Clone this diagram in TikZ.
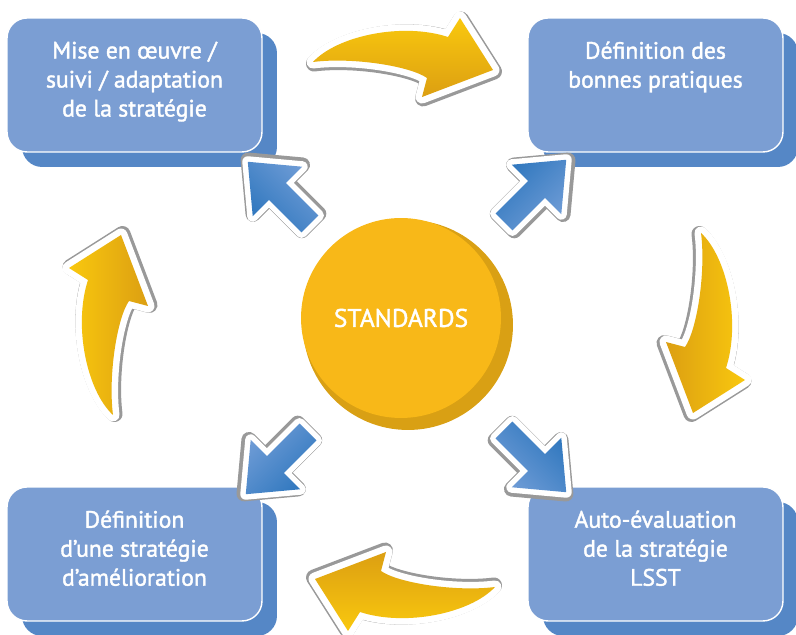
\documentclass[tikz,border=0pt]{standalone}
\usepackage{fontspec}
\setmainfont{PT Sans}
\newfontfamily\stagefont{PT Sans}[FakeBold=1.6]
\usetikzlibrary{positioning,shadows}

\definecolor{boxblue}{HTML}{7B9ED3}
\definecolor{boxshade}{HTML}{5587C6}
\definecolor{stdgold}{HTML}{F8B818}
\definecolor{stdshade}{HTML}{D9A014}
\definecolor{arrowdark}{HTML}{2F77BE}
\definecolor{arrowlight}{HTML}{6F9CD6}
\definecolor{curvelight}{HTML}{F9C80E}
\definecolor{curvedark}{HTML}{DC9F12}

\newcommand\bluearrowpath{(0,-12) -- (46,-12) -- (46,-35) -- (88,0) -- (46,35) -- (46,12) -- (0,12) -- cycle}
\newcommand\curvedarrowpath{(-89,-4) .. controls (-65,22) and (0,36) .. (46,21) -- (58,40) -- (91,-12) -- (20,-39) -- (25,-20) .. controls (8,-8) and (-50,1) .. cycle}

\tikzset{
        stagebox/.style={rectangle, rounded corners=0.4cm, fill=boxblue, draw=white, line width=0.8pt,
                minimum width=5.1cm, minimum height=2.68cm,
                drop shadow={shadow xshift=0.3cm, shadow yshift=-0.3cm, fill=boxshade, opacity=1}},
        stagetext/.style={text=white, align=center, inner sep=0pt, font=\stagefont\fontsize{13.5}{16.5}\selectfont},
        bluearrow/.pic={
                \path[draw=black!40, line width=0.3cm, line join=round, shift={(1,-1.5)}] \bluearrowpath;
                \path[draw=white, line width=0.22cm, line join=round] \bluearrowpath;
                \shade[left color=arrowdark, right color=arrowlight, shading angle=#1] \bluearrowpath;
        },
        curvedarrow/.pic={
                \path[draw=black!40, line width=0.32cm, line join=round, shift={(1,-1.5)}] \curvedarrowpath;
                \path[draw=white, line width=0.26cm, line join=round] \curvedarrowpath;
                \shade[left color=curvelight, right color=curvedark, shading angle=#1] \curvedarrowpath;
        }
}

\begin{document}
\begin{tikzpicture}[x=0.02cm, y=0.02cm]
        \useasboundingbox (0,0) rectangle (796,635);

        \node[stagebox] at (134.5,550)(tl){};
        \node[stagebox] at (655.5,550)(tr){};
        \node[stagebox] at (134.5,81)(bl){};
        \node[stagebox] at (655.5,81)(br){};

        \node[stagetext, below=0.48cm of tl.north](tltext){Mise en œuvre /\\suivi / adaptation\\de la stratégie};
        \node[stagetext, below=0.48cm of tr.north](trtext){Définition des\\bonnes pratiques};
        \node[stagetext, below=0.48cm of bl.north](bltext){Définition\\d’une stratégie\\d’amélioration};
        \node[stagetext, below=0.48cm of br.north](brtext){Auto-évaluation\\de la stratégie\\LSST};

        \fill[stdshade] (408,310) circle[radius=2.1cm];
        \node[circle, fill=stdgold, minimum size=4cm, text=white, font=\stagefont\fontsize{14.5}{16}\selectfont] at (401,317)(std){STANDARDS};

        \pic[rotate=135] at (310,411) {bluearrow=135};
        \pic[rotate=45] at (504,413) {bluearrow=45};
        \pic[rotate=225] at (308,203) {bluearrow=225};
        \pic[rotate=315] at (504,205) {bluearrow=315};

        \pic at (402,577) {curvedarrow=0};
        \pic[rotate=-90] at (705,313) {curvedarrow=-90};
        \pic[rotate=180] at (406,44) {curvedarrow=180};
        \pic[rotate=90] at (109,309) {curvedarrow=90};
\end{tikzpicture}
\end{document}
